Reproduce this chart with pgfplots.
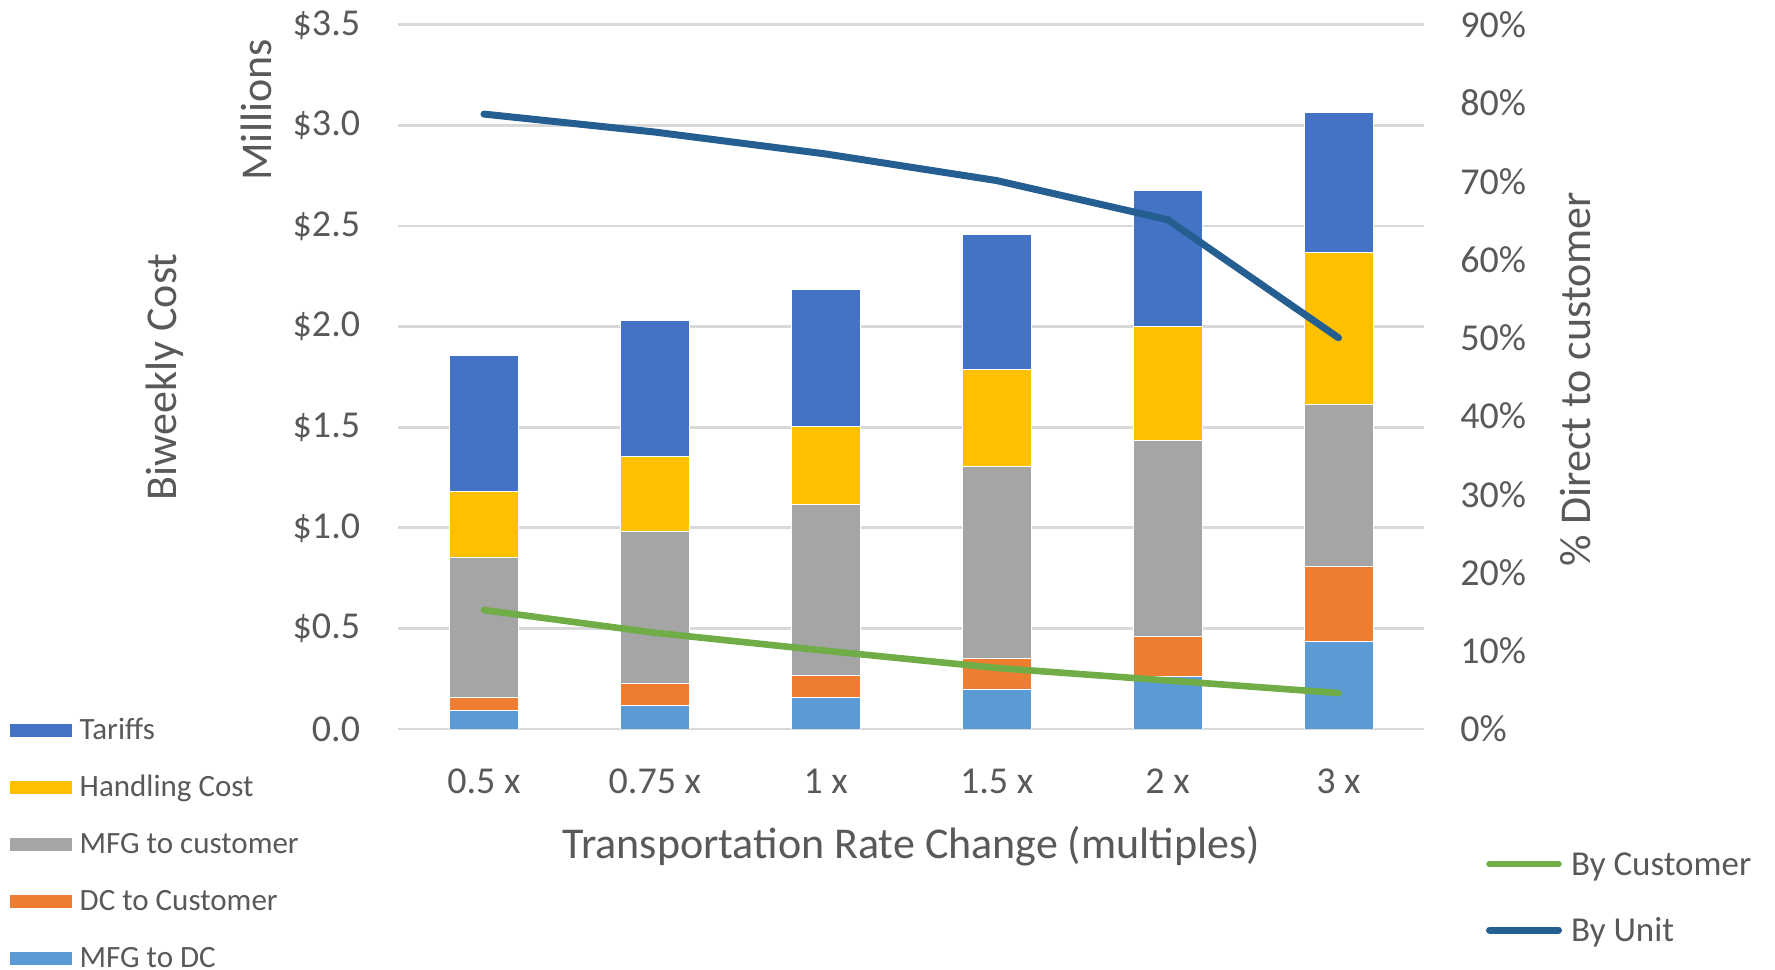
\documentclass[border=0pt]{standalone}
\usepackage{pgfplots}
\pgfplotsset{compat=1.18}
\usepackage{fontspec}
\setmainfont{Carlito}

\definecolor{tariffs}{HTML}{4472C4}
\definecolor{handling}{HTML}{FFC000}
\definecolor{mfgcust}{HTML}{A5A5A5}
\definecolor{dccust}{HTML}{ED7D31}
\definecolor{mfgdc}{HTML}{5B9BD5}
\definecolor{bycust}{HTML}{70AD47}
\definecolor{byunit}{HTML}{255E91}
\definecolor{gridgray}{HTML}{D9D9D9}
\definecolor{textgray}{HTML}{595959}

% biweekly cost components, millions of dollars
\pgfplotstableread{
x  mfgdc  dccust  mfgcust  handling  tariffs
0  0.094  0.065   0.696    0.325     0.675
1  0.116  0.109   0.759    0.371     0.676
2  0.159  0.106   0.850    0.391     0.677
3  0.199  0.153   0.954    0.479     0.674
4  0.260  0.199   0.977    0.567     0.672
5  0.436  0.371   0.805    0.759     0.695
}\costs

% share shipped direct to customer, percent
\pgfplotstableread{
x  bycustomer  byunit
0  15.2        78.6
1  12.3        76.3
2  10.0        73.5
3   7.8        70.1
4   6.2        65.1
5   4.6        50.0
}\direct

\begin{document}
\begin{tikzpicture}
\begin{axis}[
  name=ax,
  scale only axis, width=512.75pt, height=352.05pt,
  xmin=-0.5, xmax=5.5, ymin=0, ymax=3.5,
  ybar stacked, bar width=0.404,
  axis y line*=left, axis x line*=bottom,
  axis line style={draw=none}, major tick length=0pt,
  ymajorgrids, grid style={color=gridgray, line width=1.4pt},
  ytick={0,0.5,1,1.5,2,2.5,3,3.5},
  yticklabels={0.0,\$0.5,\$1.0,\$1.5,\$2.0,\$2.5,\$3.0,\$3.5},
  xtick={0,1,2,3,4,5},
  xticklabels={0.5 x,0.75 x,1 x,1.5 x,2 x,3 x},
  /pgf/number format/assume math mode=true,
  ticklabel style={font=\fontsize{19}{22}\selectfont, text=textgray},
  yticklabel style={inner sep=0pt, anchor=east, xshift=-19pt},
  xticklabel style={inner sep=0pt, anchor=north, yshift=-19.75pt},
  legend cell align=left, reverse legend,
  legend style={at={(-0.3799,0.0128)}, anchor=north west,
    draw=none, fill=none, inner sep=0pt, outer sep=0pt, row sep=18.5pt,
    font=\fontsize{15.5}{18}\selectfont, text=textgray,
    nodes={inner sep=0pt, text height=10pt, text depth=0pt},
    /tikz/every odd column/.style={column sep=3.5pt}},
  legend image code/.code={\fill[#1] (0pt,-3.5pt) rectangle (31.5pt,3.5pt);},
]
\addplot[fill=mfgdc, draw=white, line width=0.4pt] table[x=x, y=mfgdc] {\costs};
\addlegendentry{MFG to DC}
\addplot[fill=dccust, draw=white, line width=0.4pt] table[x=x, y=dccust] {\costs};
\addlegendentry{DC to Customer}
\addplot[fill=mfgcust, draw=white, line width=0.4pt] table[x=x, y=mfgcust] {\costs};
\addlegendentry{MFG to customer}
\addplot[fill=handling, draw=white, line width=0.4pt] table[x=x, y=handling] {\costs};
\addlegendentry{Handling Cost}
\addplot[fill=tariffs, draw=white, line width=0.4pt] table[x=x, y=tariffs] {\costs};
\addlegendentry{Tariffs}
\end{axis}

\begin{axis}[
  at={(ax.south west)}, anchor=south west,
  scale only axis, width=512.75pt, height=352.05pt,
  xmin=-0.5, xmax=5.5, ymin=0, ymax=90,
  axis y line*=right, hide x axis,
  axis line style={draw=none}, major tick length=0pt,
  ytick={0,10,20,30,40,50,60,70,80,90},
  yticklabels={0\%,10\%,20\%,30\%,40\%,50\%,60\%,70\%,80\%,90\%},
  /pgf/number format/assume math mode=true,
  ticklabel style={font=\fontsize{19}{22}\selectfont, text=textgray},
  yticklabel style={inner sep=0pt, anchor=west, xshift=18pt},
  legend cell align=left,
  legend style={at={(1.0605,-0.1757)}, anchor=north west,
    draw=none, fill=none, inner sep=0pt, outer sep=0pt, row sep=21.7pt,
    font=\fontsize{17.5}{20}\selectfont, text=textgray,
    nodes={inner sep=0pt, text height=11.3pt, text depth=0pt},
    /tikz/every odd column/.style={column sep=4.5pt}},
  legend image code/.code={\draw[#1, line cap=round] (1.75pt,0pt) -- (36.25pt,0pt);},
]
\addplot[color=bycust, line width=3.3pt, line cap=round, line join=round, mark=none]
  table[x=x, y=bycustomer] {\direct};
\addlegendentry{By Customer}
\addplot[color=byunit, line width=3.5pt, line cap=round, line join=round, mark=none]
  table[x=x, y=byunit] {\direct};
\addlegendentry{By Unit}
\end{axis}

\begin{scope}[every node/.style={text=textgray, font=\fontsize{22}{26}\selectfont}]
  \node[rotate=90] at ([xshift=-117pt]ax.west) {Biweekly Cost};
  \node[rotate=90] at ([xshift=-71.25pt, yshift=-42.5pt]ax.north west) {Millions};
  \node[rotate=90] at ([xshift=76pt, yshift=-1pt]ax.east) {\% Direct to customer};
  \node at ([yshift=-58.5pt]ax.south) {Transportation Rate Change (multiples)};
\end{scope}

\pgfresetboundingbox
\path[use as bounding box] ([xshift=-199.25pt, yshift=-120.5pt]ax.south west)
  rectangle ([xshift=175.5pt, yshift=12.45pt]ax.north east);
\end{tikzpicture}
\end{document}
